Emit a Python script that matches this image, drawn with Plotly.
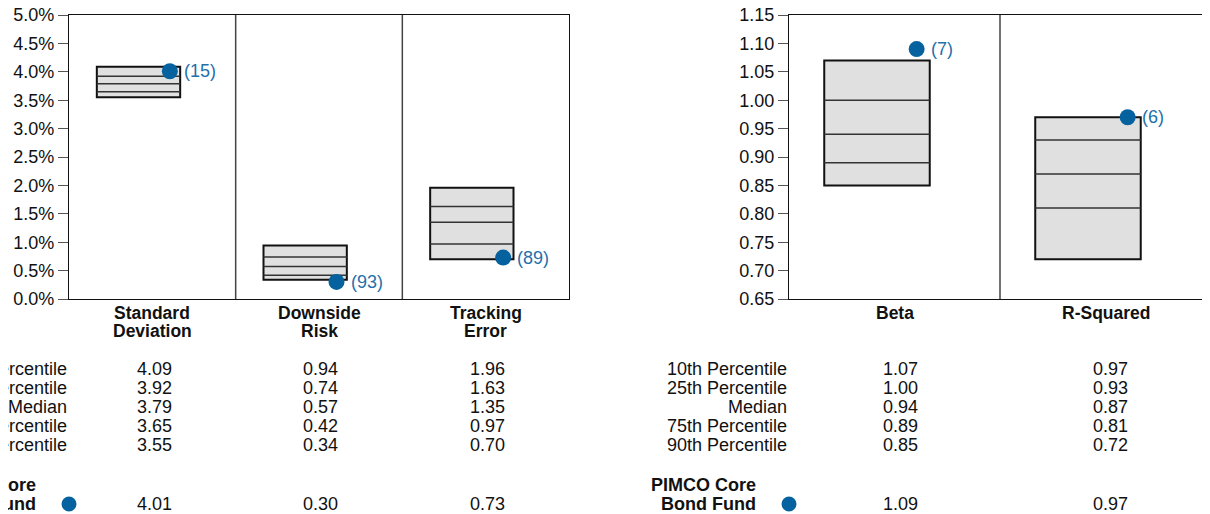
import plotly.graph_objects as go

# risk stats (left panel, in %)
risk_cats = ["Standard<br>Deviation", "Downside<br>Risk", "Tracking<br>Error"]
risk_p10 = [4.09, 0.94, 1.96]
risk_p25 = [3.92, 0.74, 1.63]
risk_med = [3.79, 0.57, 1.35]
risk_p75 = [3.65, 0.42, 0.97]
risk_p90 = [3.55, 0.34, 0.70]
risk_fund = [4.01, 0.30, 0.73]
risk_rank = ["(15)", "(93)", "(89)"]

# market stats (right panel)
mkt_cats = ["Beta", "R-Squared"]
mkt_p10 = [1.07, 0.97]
mkt_p25 = [1.00, 0.93]
mkt_med = [0.94, 0.87]
mkt_p75 = [0.89, 0.81]
mkt_p90 = [0.85, 0.72]
mkt_fund = [1.09, 0.97]
mkt_rank = ["(7)", "(6)"]

row_labels = ["10th Percentile", "25th Percentile", "Median", "75th Percentile", "90th Percentile"]
fund_lines = ["PIMCO Core", "Bond Fund"]

FONT = "Liberation Sans, Arial, sans-serif"
DOT = "#05629e"
TXT_BLUE = "#1f70ab"
W, H = 1210, 514
FS = 18
OFF = 8  # page body margin: screen px = figure px + 8


def px(sx):
    return (sx - OFF) / W


def py(sy):
    return 1 - (sy - OFF) / H


fig = go.Figure()


def add_panel(xa, ya, cats, p10, p25, med, p75, p90, fund, rank):
    n = len(p10)
    fig.add_trace(go.Bar(
        x=[i + 0.417 for i in range(n)], y=[a - b for a, b in zip(p10, p90)], base=p90,
        width=0.5, marker=dict(color="#e0e0e0", line=dict(color="#111", width=2)),
        xaxis=xa, yaxis=ya, hoverinfo="skip", showlegend=False))
    xs, ys = [], []
    for i in range(n):
        for v in (p25[i], med[i], p75[i]):
            xs += [i + 0.167, i + 0.667, None]
            ys += [v, v, None]
    fig.add_trace(go.Scatter(x=xs, y=ys, mode="lines", line=dict(color="#333", width=1.5),
                             xaxis=xa, yaxis=ya, hoverinfo="skip", showlegend=False))
    fig.add_trace(go.Scatter(
        x=[i + 0.605 for i in range(n)], y=fund, mode="markers",
        marker=dict(color=DOT, size=16), cliponaxis=False,
        xaxis=xa, yaxis=ya, showlegend=False))
    for i in range(n):
        fig.add_annotation(x=i + 0.605, y=fund[i], xref=xa, yref=ya, text=rank[i],
                           showarrow=False, xanchor="left", yanchor="middle", xshift=12,
                           font=dict(color=TXT_BLUE, size=FS))
        # category label, one line per annotation to keep lines tight
        for k, line in enumerate(cats[i].split("<br>")):
            fig.add_annotation(x=i + 0.5, y=py(313 + 18 * k), xref=xa, yref="paper",
                               text="<b>" + line + "</b>", showarrow=False,
                               xanchor="center", yanchor="middle", font=dict(size=FS - 0.5))
    # dividers between categories
    for k in range(1, n):
        fig.add_shape(type="line", xref=xa, yref=ya + " domain", x0=k, x1=k, y0=0, y1=1,
                      line=dict(color="#444", width=1.5))


add_panel("x", "y", risk_cats, risk_p10, risk_p25, risk_med, risk_p75, risk_p90,
          risk_fund, risk_rank)
add_panel("x2", "y2", mkt_cats, mkt_p10, mkt_p25, mkt_med, mkt_p75, mkt_p90,
          mkt_fund, mkt_rank)

y_dom = [py(299), py(15)]
ax_common = dict(showgrid=False, zeroline=False, showline=True, linecolor="#111",
                 linewidth=1.2, automargin=False)
y_common = dict(ticks="outside", ticklen=10, tickcolor="#555", tickwidth=1.2,
                ticklabeloverflow="allow")
fig.update_layout(
    template="none",
    width=W, height=H, margin=dict(l=0, r=0, t=0, b=0, pad=0),
    paper_bgcolor="white", plot_bgcolor="white",
    font=dict(family=FONT, size=FS, color="#111"),
    barmode="overlay", showlegend=False,
    xaxis=dict(domain=[px(69), px(569)], range=[0, 3], showticklabels=False, ticks="",
               mirror=True, anchor="y", **ax_common),
    yaxis=dict(domain=y_dom, range=[0, 5], dtick=0.5, tickformat=".1f", ticksuffix="%",
               mirror=True, anchor="x", **y_common, **ax_common),
    xaxis2=dict(domain=[px(789), px(1211)], range=[0, 2], showticklabels=False, ticks="",
                mirror=True, anchor="y2", **ax_common),
    yaxis2=dict(domain=y_dom, range=[0.65, 1.15], dtick=0.05, tickformat=".2f",
                anchor="x2", **y_common, **ax_common),
)

# stats table under each panel
row_y = [369, 388, 407, 426, 445]
fund_y = [485, 504]


def add_table(axis_px, centers_px, cols):
    for r, lab in enumerate(row_labels):
        fig.add_annotation(x=px(axis_px), y=py(row_y[r]), xref="paper", yref="paper",
                           text=lab, showarrow=False, xanchor="right", yanchor="middle")
    for c, cx in enumerate(centers_px):
        for r in range(5):
            fig.add_annotation(x=px(cx), y=py(row_y[r]), xref="paper", yref="paper",
                               text=f"{cols[r][c]:.2f}", showarrow=False,
                               xanchor="center", yanchor="middle")
        fig.add_annotation(x=px(cx), y=py(fund_y[1]), xref="paper", yref="paper",
                           text=f"{cols[5][c]:.2f}", showarrow=False, xanchor="center",
                           yanchor="middle")
    for k, line in enumerate(fund_lines):
        fig.add_annotation(x=px(axis_px - 31), y=py(fund_y[k]), xref="paper",
                           yref="paper", text="<b>" + line + "</b>", showarrow=False,
                           xanchor="right", yanchor="middle")
    r = 7.5
    fig.add_shape(type="circle", xref="paper", yref="paper",
                  x0=px(axis_px - r), x1=px(axis_px + r),
                  y0=py(fund_y[1] + r), y1=py(fund_y[1] - r),
                  fillcolor=DOT, line=dict(width=0))


add_table(69, [154, 320, 487],
          [risk_p10, risk_p25, risk_med, risk_p75, risk_p90, risk_fund])
add_table(789, [900, 1110],
          [mkt_p10, mkt_p25, mkt_med, mkt_p75, mkt_p90, mkt_fund])

fig.write_html("out.html")
